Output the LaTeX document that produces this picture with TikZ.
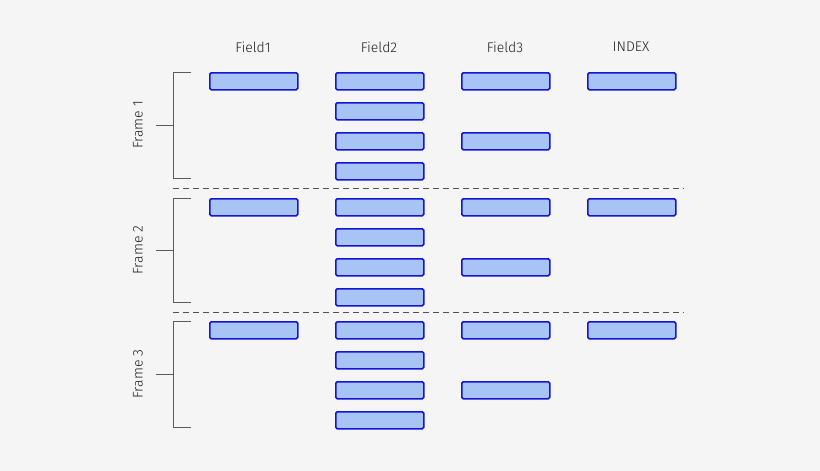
\documentclass[tikz,border=0pt]{standalone}
\usepackage{fontspec}
\setmainfont{Fira Sans Light}[BoldFont=Fira Sans]
\definecolor{bg}{RGB}{245,245,246}
\definecolor{bdr}{RGB}{20,20,215}
\definecolor{bfill}{RGB}{168,196,245}
\definecolor{txt}{RGB}{30,30,30}
\definecolor{brkc}{RGB}{90,90,90}
\definecolor{sepc}{RGB}{80,80,80}
\begin{document}
\begin{tikzpicture}[x=1pt,y=-1pt,
  box/.style={draw=bdr,fill=bfill,line width=1.6pt,rounded corners=1.5pt,minimum width=88pt,minimum height=17pt,inner sep=0pt,anchor=north west},
  lbl/.style={font=\fontsize{14}{16}\selectfont,text=txt},
  brk/.style={draw=brkc,line width=1pt},
  sep/.style={draw=sepc,line width=1pt,dash pattern=on 6pt off 4pt}]
\fill[bg] (0,0) rectangle (820,471);
\useasboundingbox (0,0) rectangle (820,471);
\foreach \n/\x/\t in {1/253/Field1,2/379/Field2,3/505/Field3,4/631/INDEX}
  \node[lbl] (h\n) at (\x,47) {\t};
\foreach \f/\y in {1/72,2/198,3/321}{
  \node[box] (a\f) at (209,\y) {};
  \node[box] (b\f1) at (335,\y) {};
  \node[box] (b\f2) at (335,\y+30) {};
  \node[box] (b\f3) at (335,\y+60) {};
  \node[box] (b\f4) at (335,\y+90) {};
  \node[box] (c\f1) at (461,\y) {};
  \node[box] (c\f2) at (461,\y+60) {};
  \node[box] (d\f) at (587,\y) {};
}
\foreach \f/\t/\b in {1/72/178,2/198/302,3/321/427}{
  \draw[brk] (191,\t) -- (173,\t) -- (173,\b) -- (191,\b);
  \coordinate (m\f) at (173,{(\t+\b)/2});
  \coordinate (k\f) at (156,{(\t+\b)/2});
  \draw[brk] (m\f) -- (k\f);
  \node[lbl,rotate=90] (fr\f) at (138,{(\t+\b)/2}) {Frame \f};
}
\coordinate (s1a) at (173,188); \coordinate (s1b) at (684,188);
\coordinate (s2a) at (173,312); \coordinate (s2b) at (684,312);
\draw[sep] (s1a) -- (s1b);
\draw[sep] (s2a) -- (s2b);
\end{tikzpicture}
\end{document}
